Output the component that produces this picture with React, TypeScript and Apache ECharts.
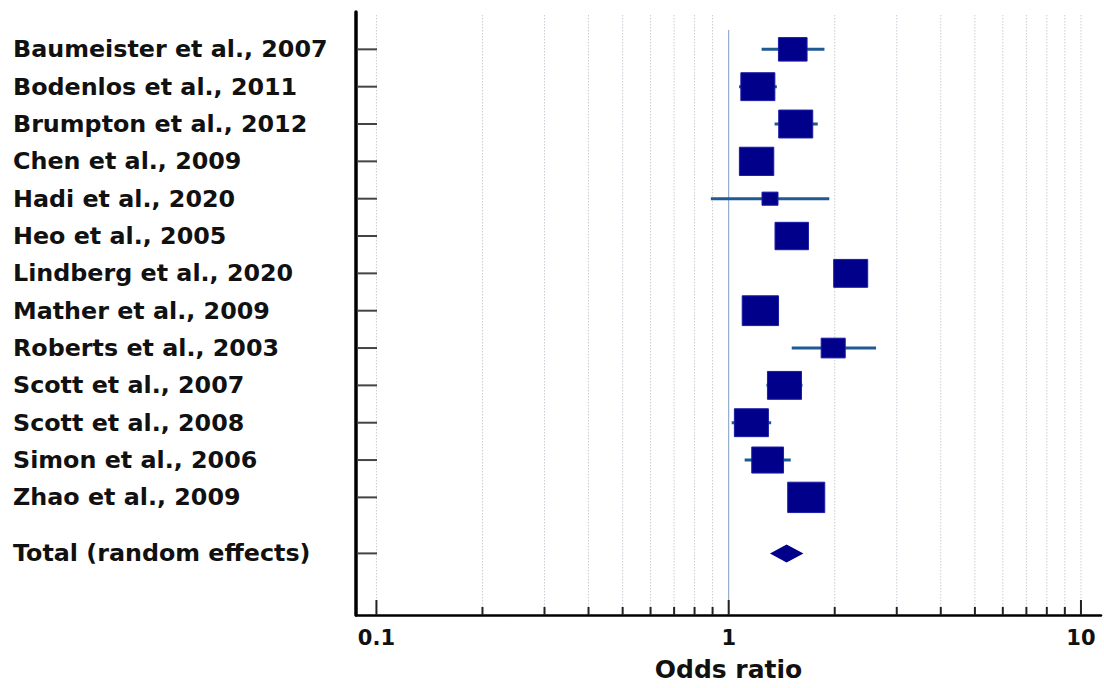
import React, { useEffect, useRef } from 'react';
import * as echarts from 'echarts';

const studies = [
  'Baumeister et al., 2007',
  'Bodenlos et al., 2011',
  'Brumpton et al., 2012',
  'Chen et al., 2009',
  'Hadi et al., 2020',
  'Heo et al., 2005',
  'Lindberg et al., 2020',
  'Mather et al., 2009',
  'Roberts et al., 2003',
  'Scott et al., 2007',
  'Scott et al., 2008',
  'Simon et al., 2006',
  'Zhao et al., 2009',
];
const oddsRatio = [1.52, 1.21, 1.55, 1.2, 1.31, 1.51, 2.22, 1.23, 1.98, 1.44, 1.16, 1.29, 1.66];
const ciLower = [1.24, 1.07, 1.35, 1.09, 0.89, 1.38, 2.05, 1.11, 1.51, 1.28, 1.02, 1.11, 1.5];
const ciUpper = [1.87, 1.37, 1.79, 1.33, 1.93, 1.65, 2.41, 1.37, 2.62, 1.62, 1.32, 1.5, 1.82];
const weights = [6.1, 8.6, 8.6, 8.8, 1.9, 8.3, 8.6, 9.8, 4.3, 8.6, 8.6, 7.5, 10.2];
const rowPositions = [0, 1, 2, 3, 4, 5, 6, 7, 8, 9, 10, 11, 12];

const totalLabel = 'Total (random effects)';
const totalOR = [1.46];
const totalLower = [1.31];
const totalUpper = [1.63];
const totalRow = [13.5];

const xTickValues = [0.1, 0.2, 0.3, 0.4, 0.5, 0.6, 0.7, 0.8, 0.9, 1, 2, 3, 4, 5, 6, 7, 8, 9, 10];
const xMajorValues = [0.1, 1, 10];
const xLabelTexts = ['0.1', '1', '10'];

const X_MIN = 0.0875;
const X_MAX = 11.4;
const Y_MIN = -1;
const Y_MAX = 15.15;
const GRID_TOP_VAL = -0.92;
const NULL_TOP_VAL = -0.52;

const FONT = '"DejaVu Sans", "Liberation Sans", Arial, sans-serif';

export default function App() {
  const ref = useRef<HTMLDivElement>(null);

  useEffect(() => {
    if (!ref.current) return;
    const chart = echarts.init(ref.current, undefined, { renderer: 'svg' });

    const labelRows = [
      ...studies.map((s, i) => ({ name: s, value: [oddsRatio[i], rowPositions[i]] })),
      { name: totalLabel, value: [totalOR[0], totalRow[0]] },
    ];

    const option: any = {
      animation: false,
      backgroundColor: '#ffffff',
      grid: { left: 356, right: 0, top: 12, bottom: 73, containLabel: false },
      xAxis: {
        type: 'log',
        logBase: 10,
        min: X_MIN,
        max: X_MAX,
        axisLine: { show: true, onZero: false, lineStyle: { color: '#000', width: 2.5 } },
        axisTick: { show: false },
        splitLine: { show: false },
        minorTick: { show: false },
        axisLabel: {
          margin: 12,
          color: '#111',
          fontFamily: FONT,
          fontWeight: 'bold',
          fontSize: 21,
          showMinLabel: true,
          showMaxLabel: true,
          formatter: (v: number) => {
            for (let i = 0; i < xMajorValues.length; i++) {
              if (Math.abs(Math.log10(v) - Math.log10(xMajorValues[i])) < 1e-4) return xLabelTexts[i];
            }
            return '';
          },
        },
        name: 'Odds ratio',
        nameLocation: 'middle',
        nameGap: 42,
        nameTextStyle: { color: '#111', fontFamily: FONT, fontWeight: 'bold', fontSize: 25 },
      },
      yAxis: {
        type: 'value',
        inverse: true,
        min: Y_MIN,
        max: Y_MAX,
        axisLine: { show: true, lineStyle: { color: '#000', width: 3.5 } },
        axisTick: { show: false },
        axisLabel: { show: false },
        splitLine: { show: false },
      },
      series: [
        {
          name: 'grid',
          type: 'custom',
          z: 1,
          silent: true,
          data: xTickValues.map((v) => [v, Y_MAX]),
          renderItem: (params: any, api: any) => {
            const v = api.value(0);
            const isNull = Math.abs(v - 1) < 1e-9;
            const isMajor = xMajorValues.some((m) => Math.abs(m - v) < 1e-9);
            const bottom = api.coord([v, Y_MAX]);
            const top = api.coord([v, isNull ? NULL_TOP_VAL : GRID_TOP_VAL]);
            const tickLen = isMajor ? 15 : 8;
            return {
              type: 'group',
              children: [
                {
                  type: 'line',
                  shape: { x1: bottom[0], y1: top[1], x2: bottom[0], y2: bottom[1] },
                  style: isNull
                    ? { stroke: '#7f9cc4', lineWidth: 1 }
                    : { stroke: '#c9cdd4', lineWidth: 1, lineDash: [1.5, 1.5] },
                },
                {
                  type: 'line',
                  shape: { x1: bottom[0], y1: bottom[1], x2: bottom[0], y2: bottom[1] - tickLen },
                  style: { stroke: '#222', lineWidth: 2 },
                },
              ],
            };
          },
        },
        {
          name: 'labels',
          type: 'custom',
          z: 3,
          silent: true,
          data: labelRows,
          renderItem: (params: any, api: any) => {
            const row = api.value(1);
            const p = api.coord([X_MIN, row]);
            const left = params.coordSys.x;
            const name = labelRows[params.dataIndex].name;
            return {
              type: 'group',
              children: [
                {
                  type: 'line',
                  shape: { x1: left + 1, y1: p[1], x2: left + 21, y2: p[1] },
                  style: { stroke: '#444', lineWidth: 2 },
                },
                {
                  type: 'text',
                  x: left - 343,
                  y: p[1],
                  style: {
                    text: name,
                    fill: '#111',
                    font: `bold 23.8px ${FONT}`,
                    align: 'left',
                    verticalAlign: 'middle',
                  },
                },
              ],
            };
          },
        },
        {
          name: 'Studies',
          type: 'custom',
          z: 5,
          silent: true,
          data: studies.map((s, i) => [oddsRatio[i], rowPositions[i], ciLower[i], ciUpper[i], weights[i]]),
          renderItem: (params: any, api: any) => {
            const or = api.value(0);
            const row = api.value(1);
            const lo = api.coord([api.value(2), row]);
            const hi = api.coord([api.value(3), row]);
            const c = api.coord([or, row]);
            const w = 11.6 * Math.sqrt(api.value(4));
            const h = w * 0.82;
            return {
              type: 'group',
              children: [
                {
                  type: 'line',
                  shape: { x1: lo[0], y1: c[1], x2: hi[0], y2: c[1] },
                  style: { stroke: '#1f5a92', lineWidth: 3 },
                },
                {
                  type: 'rect',
                  shape: { x: c[0] - w / 2, y: c[1] - h / 2, width: w, height: h },
                  style: { fill: '#00008b', stroke: '#1c1ca6', lineWidth: 1 },
                },
              ],
            };
          },
        },
        {
          name: 'Total',
          type: 'custom',
          z: 5,
          silent: true,
          data: totalOR.map((v, i) => [v, totalRow[i], totalLower[i], totalUpper[i]]),
          renderItem: (params: any, api: any) => {
            const row = api.value(1);
            const c = api.coord([api.value(0), row]);
            const lo = api.coord([api.value(2), row]);
            const hi = api.coord([api.value(3), row]);
            const hh = 9;
            return {
              type: 'polygon',
              shape: { points: [[lo[0], c[1]], [c[0], c[1] - hh], [hi[0], c[1]], [c[0], c[1] + hh]] },
              style: { fill: '#00008b' },
            };
          },
        },
      ],
    };

    chart.setOption(option);
    return () => chart.dispose();
  }, []);

  return (
    <div
      ref={ref}
      style={{ position: 'absolute', left: 0, top: 0, width: 1104, height: 688, background: '#fff' }}
    />
  );
}
